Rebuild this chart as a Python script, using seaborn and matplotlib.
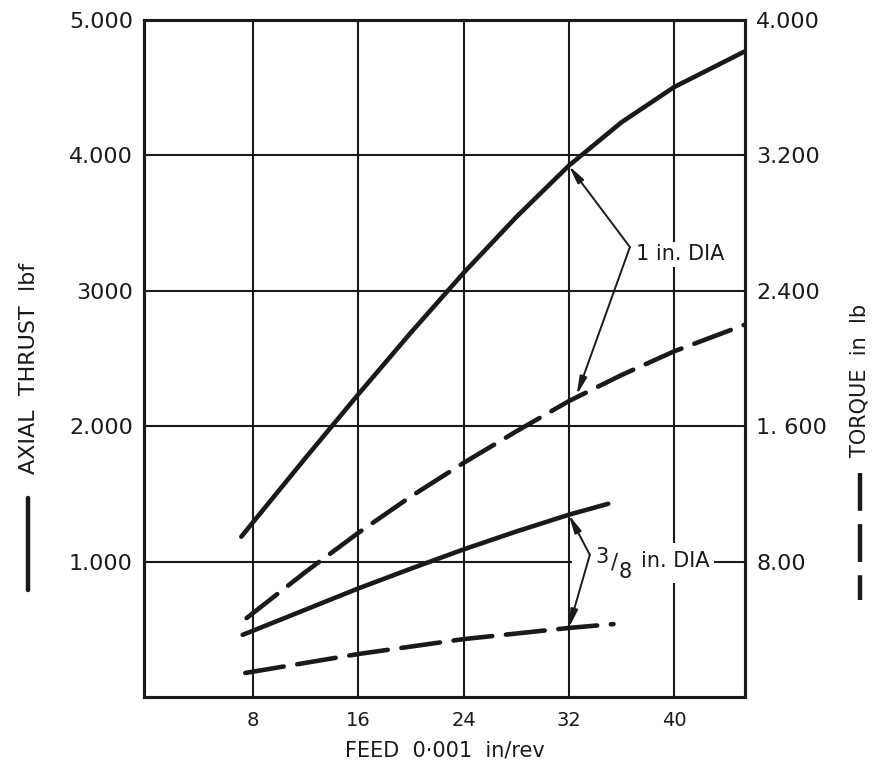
import matplotlib
matplotlib.use("Agg")
import matplotlib.pyplot as plt
from matplotlib.lines import Line2D
from matplotlib.patches import Rectangle
import seaborn as sns
import pandas as pd

# Feed (0.001 in/rev) and axial thrust (lbf), 1 in. drill
feed_thrust_1in = [7.1, 8, 12, 16, 20, 24, 28, 32, 36, 40, 45.4]
thrust_1in = [1184, 1292, 1768, 2236, 2692, 3132, 3544, 3924, 4244, 4504, 4769]

# Feed and torque (in lb), 1 in. drill
feed_torque_1in = [7.5, 12, 16, 20, 24, 28, 32, 36, 40, 45.4]
torque_1in = [466, 740, 970, 1185, 1383, 1569, 1748, 1902, 2042, 2200]

# Feed and axial thrust, 3/8 in. drill
feed_thrust_38 = [7.2, 8, 16, 20, 24, 28, 32, 35]
thrust_38 = [459, 490, 802, 948, 1090, 1222, 1346, 1427]

# Feed and torque, 3/8 in. drill
feed_torque_38 = [7.4, 16, 24, 32, 35.4]
torque_38 = [142, 254, 342, 408, 431]

x_ticks = [8, 16, 24, 32, 40]
thrust_ticks = [1000, 2000, 3000, 4000, 5000]
thrust_labels = ["1.000", "2.000", "3000", "4.000", "5.000"]
torque_ticks = [800, 1600, 2400, 3200, 4000]
torque_labels = ["8.00", "1. 600", "2.400", "3.200", "4.000"]

sns.set_theme(style="white")
plt.rcParams["font.family"] = ["DejaVu Sans"]

INK = "#1a1a1a"
W, H = 877, 773
fig = plt.figure(figsize=(W / 100, H / 100), dpi=100)
fig.patch.set_facecolor("white")
ax = fig.add_axes([144 / W, 1 - 697 / H, (745 - 144) / W, (697 - 20) / H])
ax2 = ax.twinx()

LW = 3.3
DASH = (0, (8.5, 3.0))

t1 = pd.DataFrame({"feed": feed_thrust_1in, "value": thrust_1in})
t38 = pd.DataFrame({"feed": feed_thrust_38, "value": thrust_38})
q1 = pd.DataFrame({"feed": feed_torque_1in, "value": torque_1in})
q38 = pd.DataFrame({"feed": feed_torque_38, "value": torque_38})

sns.lineplot(data=t1, x="feed", y="value", ax=ax, color=INK, linewidth=LW,
             solid_capstyle="round", solid_joinstyle="round", zorder=4)
sns.lineplot(data=t38, x="feed", y="value", ax=ax, color=INK, linewidth=LW,
             solid_capstyle="round", solid_joinstyle="round", zorder=4)
sns.lineplot(data=q1, x="feed", y="value", ax=ax2, color=INK, linewidth=LW,
             linestyle=DASH, dash_capstyle="round", zorder=4)
sns.lineplot(data=q38, x="feed", y="value", ax=ax2, color=INK, linewidth=LW,
             linestyle=DASH, dash_capstyle="round", zorder=4)

ax.set_xlim(-0.3, 45.4)
ax.set_ylim(0, 5000)
ax2.set_ylim(0, 4000)

ax.set_xticks(x_ticks)
ax.set_xticklabels([str(v) for v in x_ticks])
ax.set_yticks(thrust_ticks)
ax.set_yticklabels(thrust_labels)
ax2.set_yticks(torque_ticks)
ax2.set_yticklabels(torque_labels)

ax.grid(True, color=INK, linewidth=1.5)
ax.set_axisbelow(True)
ax2.grid(False)

ax.tick_params(axis="x", length=0, pad=10, labelsize=14, colors=INK)
ax.tick_params(axis="y", length=0, pad=8, labelsize=16, colors=INK)
ax2.tick_params(axis="y", length=0, pad=8, labelsize=16, colors=INK)

for a in (ax, ax2):
    for s in a.spines.values():
        s.set_color(INK)
        s.set_linewidth(2.2)
    a.set_xlabel("")
    a.set_ylabel("")

ax.set_xlabel("FEED  0·001  in/rev", fontsize=15, color=INK, labelpad=8)

# Callouts for the two drill sizes
arrow = dict(arrowstyle="-|>,head_length=0.9,head_width=0.18", lw=1.4,
             color=INK, shrinkA=0, shrinkB=0)
vtx_1 = (36.65, 3323)
ax.annotate("", xy=(32, 3924), xytext=vtx_1, arrowprops=arrow, zorder=5)
ax.annotate("", xy=(32.6, 2230), xytext=vtx_1, arrowprops=arrow, zorder=5)
ax.text(37.1, 3270, "1 in. DIA", fontsize=15, color=INK, va="center", ha="left",
        bbox=dict(facecolor="white", edgecolor="none", pad=2), zorder=3)

vtx_38 = (33.6, 1050)
# white backing behind the 3/8 label so the grid breaks around it
ax.add_patch(Rectangle((32.25, 842), 43.04 - 32.25, 1137 - 842,
                       facecolor="white", edgecolor="none", zorder=3))
ax.annotate("", xy=(32, 1346), xytext=vtx_38, arrowprops=arrow, zorder=5)
ax.annotate("", xy=(32, 510), xytext=vtx_38, arrowprops=arrow, zorder=5)
ax.text(34.55, 1035, "3", fontsize=15, color=INK, ha="center", va="center", zorder=6)
ax.text(35.5, 995, "/", fontsize=15, color=INK, ha="center", va="center", zorder=6)
ax.text(36.3, 925, "8", fontsize=15, color=INK, ha="center", va="center", zorder=6)
ax.text(37.5, 1005, "in. DIA", fontsize=15, color=INK, ha="left", va="center", zorder=6)

# Axis titles with line-style keys
fig.text(29 / W, 1 - 368 / H, "AXIAL  THRUST  lbf", rotation=90, fontsize=16,
         color=INK, ha="center", va="center")
fig.add_artist(Line2D([28 / W, 28 / W], [1 - 498 / H, 1 - 590 / H],
                      transform=fig.transFigure, color=INK, lw=3.2))
fig.text(860 / W, 1 - 380 / H, "TORQUE  in  lb", rotation=90, fontsize=15,
         color=INK, ha="center", va="center")
fig.add_artist(Line2D([860 / W, 860 / W], [1 - 473 / H, 1 - 600 / H],
                      transform=fig.transFigure, color=INK, lw=3.2,
                      linestyle=(0, (8.5, 3.0))))

fig.savefig("out.png", dpi=100, facecolor="white")
